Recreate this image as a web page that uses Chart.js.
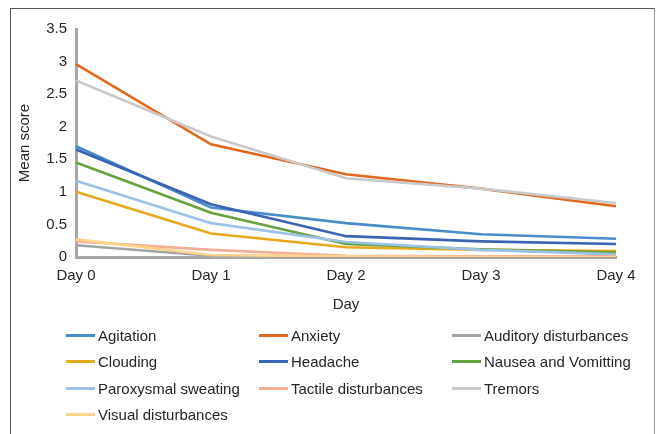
<!DOCTYPE html>
<html lang="en">
<head>
  <meta charset="UTF-8">
  <title>Mean score by day</title>
  <script src="https://cdn.jsdelivr.net/npm/chart.js"></script>
  <style>
    body { margin: 0; background: #fff; }
    #wrap { position: relative; width: 657px; height: 434px; overflow: hidden; font-family: "Liberation Sans", Arial, sans-serif; }
    #frame { position: absolute; left: 10px; top: 8px; width: 643px; height: 460px; border: 1px solid #555; border-right-color: #999; }
    #symptomChart { position: absolute; left: 0; top: 0; }
    .item { position: absolute; height: 20px; display: flex; align-items: center; font-size: 15px; color: #262626; white-space: nowrap; }
    .item span.swatch { display: inline-block; width: 29px; height: 3px; margin-right: 3px; }
  </style>
</head>
<body>
  <div id="wrap">
    <div id="frame"></div>
    <canvas id="symptomChart" width="657" height="434"></canvas>
    <div id="legend"></div>
  </div>

  <script>
    const days = ['Day 0', 'Day 1', 'Day 2', 'Day 3', 'Day 4'];

    const agitation = [1.70, 0.76, 0.52, 0.35, 0.28];
    const anxiety = [2.96, 1.73, 1.27, 1.05, 0.78];
    const auditory = [0.18, 0.02, 0.01, 0.00, 0.00];
    const clouding = [1.00, 0.36, 0.15, 0.11, 0.09];
    const headache = [1.65, 0.81, 0.32, 0.24, 0.20];
    const nausea = [1.45, 0.68, 0.20, 0.12, 0.07];
    const sweating = [1.17, 0.52, 0.23, 0.11, 0.04];
    const tactile = [0.24, 0.11, 0.02, 0.01, 0.01];
    const tremors = [2.71, 1.85, 1.21, 1.05, 0.83];
    const visual = [0.27, 0.03, 0.01, 0.00, 0.00];

    const seriesNames = ['Agitation', 'Anxiety', 'Auditory disturbances', 'Clouding', 'Headache',
      'Nausea and Vomitting', 'Paroxysmal sweating', 'Tactile disturbances', 'Tremors', 'Visual disturbances'];
    const seriesValues = [agitation, anxiety, auditory, clouding, headache, nausea, sweating, tactile, tremors, visual];
    const seriesColors = ['#4A8BC9', '#E0691F', '#A3A3A3', '#E6A91C', '#3B64B3',
      '#67A23E', '#9CC2E7', '#F4AE94', '#C9C9C9', '#FFD48A'];

    const yTicks = [0, 0.5, 1, 1.5, 2, 2.5, 3, 3.5];

    const font = { family: '"Liberation Sans", Arial, sans-serif', size: 15 };
    const textColor = '#262626';

    const datasets = seriesNames.map((name, i) => ({
      label: name,
      data: seriesValues[i],
      borderColor: seriesColors[i],
      backgroundColor: seriesColors[i],
      borderWidth: 2.6,
      pointRadius: 0,
      tension: 0,
      fill: false,
      order: seriesNames.length - i
    }));

    const ctx = document.getElementById('symptomChart').getContext('2d');
    new Chart(ctx, {
      type: 'line',
      data: { labels: days, datasets: datasets },
      options: {
        responsive: false,
        animation: false,
        layout: { padding: { left: 12, top: 29, right: 41, bottom: 116 } },
        plugins: { legend: { display: false }, tooltip: { enabled: false } },
        scales: {
          x: {
            offset: false,
            grid: { display: false, drawTicks: false },
            border: { display: true, color: '#A6A6A6', width: 3 },
            ticks: { color: textColor, font: font, padding: 10, maxRotation: 0 },
            title: { display: true, text: 'Day', color: textColor, font: font },
            afterFit: s => { s.height = 61; }
          },
          y: {
            min: 0,
            max: 3.5,
            afterBuildTicks: s => { s.ticks = yTicks.map(v => ({ value: v })); },
            grid: { display: false, drawTicks: false },
            border: { display: true, color: '#A6A6A6', width: 3 },
            ticks: { color: textColor, font: font, padding: 9, callback: v => String(v) },
            title: { display: true, text: 'Mean score', color: textColor, font: font },
            afterFit: s => { s.width = 64; }
          }
        }
      }
    });

    // legend laid out in three columns like the original
    const legend = document.getElementById('legend');
    const colX = [66, 259, 452];
    const rowY = [325, 351.5, 378, 404];
    seriesNames.forEach((name, i) => {
      const el = document.createElement('div');
      el.className = 'item';
      el.style.left = colX[i % 3] + 'px';
      el.style.top = rowY[Math.floor(i / 3)] + 'px';
      el.innerHTML = '<span class="swatch" style="background:' + seriesColors[i] + '"></span>' + name;
      legend.appendChild(el);
    });
  </script>
</body>
</html>
